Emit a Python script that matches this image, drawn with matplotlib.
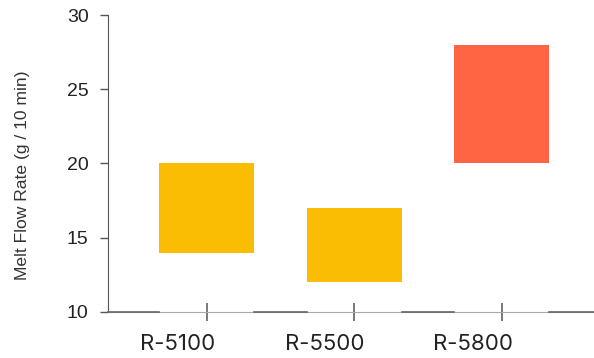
import matplotlib
matplotlib.use("Agg")
import matplotlib.pyplot as plt

grades = ["R-5100", "R-5500", "R-5800"]
mfr_low = [14, 12, 20]
mfr_high = [20, 17, 28]
colors = ["#FBBC04", "#FBBC04", "#FF6543"]

bar_w = 0.645
label_offset = 0.197  # labels sit left of their ticks in the original

fig = plt.figure(figsize=(5.94, 3.58), dpi=100)
ax = fig.add_axes([0.1818, 0.1285, 0.8293, 0.8296])

x = list(range(len(grades)))
heights = [h - l for l, h in zip(mfr_low, mfr_high)]
ax.bar(x, heights, bottom=mfr_low, width=bar_w, color=colors, zorder=2)

ax.set_xlim(-0.67, 2.67)
ax.set_ylim(10, 30)
ax.set_yticks([10, 15, 20, 25, 30])
ax.set_xticks(x)
ax.set_xticklabels([])
ax.set_xticks([i - label_offset for i in x], minor=True)
ax.set_xticklabels(grades, minor=True, fontsize=16, family="Inter", color="#222222")
for lab in ax.get_yticklabels():
    lab.set_fontsize(14)
    lab.set_family("Liberation Sans")
    lab.set_color("#222222")
ax.set_ylabel("Melt Flow Rate (g / 10 min)", fontsize=12.6, family="Liberation Sans",
              color="#333333")
ax.yaxis.set_label_coords(-0.158, 0.461)

for s in ["top", "right"]:
    ax.spines[s].set_visible(False)
ax.spines["left"].set_color("#555555")
ax.spines["bottom"].set_color("#aaaaaa")
ax.tick_params(axis="y", colors="#555555", length=6, width=1, pad=8, labelcolor="#222222")
ax.tick_params(axis="x", which="major", direction="inout", length=13, width=1.1,
               color="#555555")
ax.tick_params(axis="x", which="minor", length=0, pad=16, labelcolor="#222222")

# darker baseline pieces in the gaps between bars
edges = [-0.67] + [v for i in x for v in (i - bar_w / 2, i + bar_w / 2)] + [2.67]
for a, b in zip(edges[0::2], edges[1::2]):
    ax.plot([a, b], [10, 10], color="#666666", lw=1.2, clip_on=False, zorder=3)

fig.savefig("out.png", dpi=100)
